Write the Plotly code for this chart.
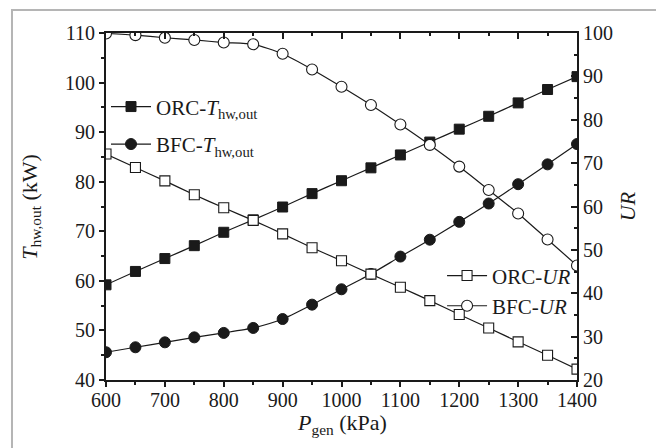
import plotly.graph_objects as go

p_gen = [600, 650, 700, 750, 800, 850, 900, 950, 1000, 1050, 1100, 1150, 1200, 1250, 1300, 1350, 1400]
orc_t = [59.2, 61.9, 64.5, 67.1, 69.8, 72.3, 74.9, 77.6, 80.2, 82.8, 85.4, 88.0, 90.6, 93.2, 95.9, 98.6, 101.2]
bfc_t = [45.6, 46.6, 47.6, 48.6, 49.5, 50.5, 52.3, 55.2, 58.3, 61.4, 64.9, 68.3, 71.9, 75.6, 79.5, 83.5, 87.6]
orc_ur = [72.1, 69.0, 65.9, 62.7, 59.7, 56.8, 53.7, 50.5, 47.5, 44.4, 41.4, 38.3, 35.1, 32.0, 28.8, 25.7, 22.5]
bfc_ur = [99.9, 99.5, 98.9, 98.4, 97.8, 97.4, 95.2, 91.6, 87.6, 83.4, 78.9, 74.2, 69.2, 63.8, 58.4, 52.4, 46.4]

x_ticks = [600, 700, 800, 900, 1000, 1100, 1200, 1300, 1400]
yl_ticks = [40, 50, 60, 70, 80, 90, 100, 110]
yr_ticks = [20, 30, 40, 50, 60, 70, 80, 90, 100]

FONT = "Liberation Serif"
BLACK = "#1a1a1a"

fig = go.Figure()

line = dict(color=BLACK, width=1.2, shape="spline", smoothing=0.6)

fig.add_trace(go.Scatter(x=p_gen, y=orc_t, mode="lines+markers", name="ORC-<i>T</i><sub>hw,out</sub>",
                         line=line, marker=dict(symbol="square", size=10, color=BLACK, line=dict(color=BLACK, width=1)),
                         legend="legend"))
fig.add_trace(go.Scatter(x=p_gen, y=bfc_t, mode="lines+markers", name="BFC-<i>T</i><sub>hw,out</sub>",
                         line=line, marker=dict(symbol="circle", size=11, color=BLACK, line=dict(color=BLACK, width=1)),
                         legend="legend2"))
fig.add_trace(go.Scatter(x=p_gen, y=orc_ur, mode="lines+markers", name="ORC-<i>UR</i>", yaxis="y2",
                         line=line, marker=dict(symbol="square", size=10, color="white", line=dict(color=BLACK, width=1.1)),
                         legend="legend3"))
fig.add_trace(go.Scatter(x=p_gen, y=bfc_ur, mode="lines+markers", name="BFC-<i>UR</i>", yaxis="y2",
                         line=line, marker=dict(symbol="circle", size=11, color="white", line=dict(color=BLACK, width=1.1)),
                         legend="legend4"))

# dummy trace to activate top x axis
fig.add_trace(go.Scatter(x=[600], y=[40], xaxis="x2", mode="markers", marker=dict(opacity=0), showlegend=False, hoverinfo="skip"))

tickfont = dict(family=FONT, size=20, color=BLACK)
titlefont = dict(family=FONT, size=22, color=BLACK)

fig.update_layout(
    template="none",
    width=656, height=440,
    margin=dict(l=98, r=87, t=25, b=68, autoexpand=False),
    paper_bgcolor="white", plot_bgcolor="white",
    font=dict(family=FONT, color=BLACK),
    xaxis=dict(range=[600, 1400], tickvals=x_ticks, ticks="outside", ticklen=5, tickwidth=1.5,
               minor=dict(dtick=50, ticks="outside", ticklen=3, tickwidth=1.5, tickcolor=BLACK),
               showline=True, linecolor=BLACK, linewidth=1.8, showgrid=False, zeroline=False, automargin=False,
               tickfont=tickfont, tickcolor=BLACK, ticklabelstandoff=-4),
    xaxis2=dict(range=[600, 1400], overlaying="x", side="top", tickvals=x_ticks, ticks="inside", ticklen=6, tickwidth=1.5,
                minor=dict(dtick=50, ticks="inside", ticklen=3, tickwidth=1.5, tickcolor=BLACK),
                showline=True, linecolor=BLACK, linewidth=1.8, showgrid=False, zeroline=False, automargin=False,
                showticklabels=False, tickcolor=BLACK),
    yaxis=dict(range=[40, 110], tickvals=yl_ticks, ticks="outside", ticklen=5, tickwidth=1.5,
               minor=dict(dtick=5, ticks="outside", ticklen=3, tickwidth=1.5, tickcolor=BLACK),
               showline=True, linecolor=BLACK, linewidth=1.8, showgrid=False, zeroline=False, automargin=False,
               tickfont=tickfont, tickcolor=BLACK),
    yaxis2=dict(range=[20, 100], overlaying="y", side="right", tickvals=yr_ticks, ticks="inside", ticklen=6, tickwidth=1.5,
                minor=dict(dtick=5, ticks="inside", ticklen=3, tickwidth=1.5, tickcolor=BLACK),
                showline=True, linecolor=BLACK, linewidth=1.8, showgrid=False, zeroline=False, automargin=False,
                tickfont=tickfont, tickcolor=BLACK,
                title=dict(text="<i>UR</i>", font=titlefont, standoff=8)),
)

# axis titles as annotations for precise placement
fig.add_annotation(text="<i>P</i><sub>gen</sub> (kPa)", xref="paper", yref="paper", x=0.5, y=-0.127,
                   xanchor="center", yanchor="middle", showarrow=False, font=titlefont)
fig.add_annotation(text="<i>T</i><sub>hw,out</sub> (kW)", xref="paper", yref="paper", x=-0.161, y=0.5,
                   xanchor="center", yanchor="middle", textangle=-90, showarrow=False, font=titlefont)

leg_common = dict(xanchor="left", yanchor="middle", bgcolor="rgba(0,0,0,0)", borderwidth=0,
                  font=dict(family=FONT, size=21, color=BLACK), itemwidth=40)
fig.update_layout(
    legend=dict(x=0.000, y=0.787, **leg_common),
    legend2=dict(x=0.000, y=0.679, **leg_common),
    legend3=dict(x=0.7135, y=0.300, **leg_common),
    legend4=dict(x=0.7135, y=0.213, **leg_common),
)

# outer light-gray frame
fig.add_shape(type="rect", xref="paper", yref="paper", x0=-0.1996, x1=1.1699, y0=-0.25, y1=1.0663,
              line=dict(color="#b5b5b5", width=2), fillcolor="rgba(0,0,0,0)", layer="below")

fig.write_html("out.html")
